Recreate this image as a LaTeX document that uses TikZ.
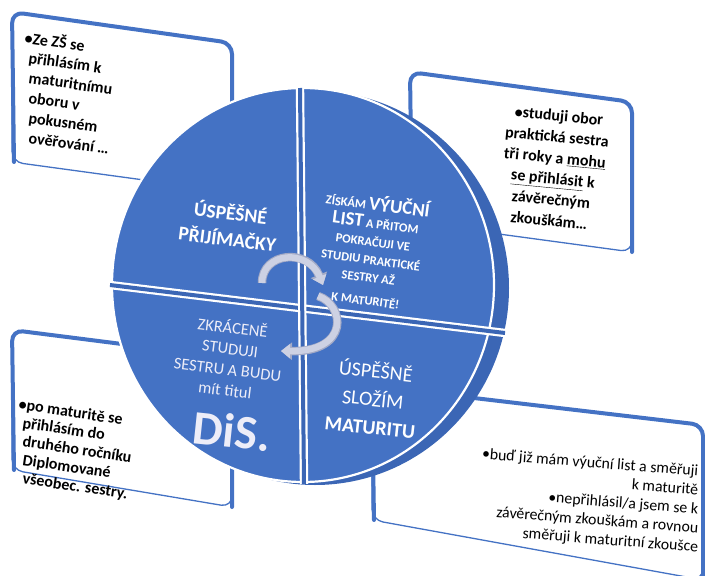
\documentclass[tikz,border=0pt]{standalone}
\usepackage{fontspec}
\setmainfont{Carlito}
\usetikzlibrary{arrows.meta}
\definecolor{oblue}{HTML}{4472C4}
\definecolor{rimblue}{HTML}{3B66B5}
\definecolor{arrowc}{HTML}{CDD1E3}
\definecolor{arrowo}{HTML}{A3AAC6}
\definecolor{lav}{HTML}{EDEDF8}
\tikzset{
  card/.style={fill=white, draw=oblue, line width=1.3pt, rounded corners=11pt},
  cardtop/.style={draw=oblue, line width=4pt, rounded corners=11pt, line cap=round},
  boxtxt/.style={font=\bfseries\fontsize{16}{21}\selectfont, text=black, inner sep=0pt},
  lineL/.style={boxtxt, anchor=base west},
  lineR/.style={font=\fontsize{15.8}{19}\selectfont, text=black, inner sep=0pt, anchor=base east, rotate=-4.5},
  qtxt/.style={text=white, inner sep=0pt, align=center},
  divider/.style={draw=white, line width=2.2pt, double=rimblue, double distance=4pt},
  cyc/.style={draw=arrowc, line width=6.5pt, -{Triangle[length=9pt,width=14pt]}},
  cycout/.style={draw=arrowo, line width=8.5pt, -{Triangle[length=11pt,width=17pt]}},
}
\begin{document}
\begin{tikzpicture}[x=1pt,y=-1pt]
\useasboundingbox (0,0) rectangle (705,576);
% cards
\coordinate (b1a) at (12,12); \coordinate (b1b) at (232,43);
\coordinate (b1c) at (232,192); \coordinate (b1d) at (12,162);
\coordinate (b2a) at (410,72); \coordinate (b2b) at (632,102);
\coordinate (b2c) at (632,252); \coordinate (b2d) at (410,222);
\coordinate (b3a) at (12,330); \coordinate (b3b) at (232,358);
\coordinate (b3c) at (232,507); \coordinate (b3d) at (12,470);
\coordinate (b4a) at (372,386); \coordinate (b4b) at (703,425);
\coordinate (b4c) at (703,580); \coordinate (b4d) at (372,520);
\foreach \n in {1,2,3,4}{
  \path[card] (b\n a) -- (b\n b) -- (b\n c) -- (b\n d) -- cycle;
  \draw[cardtop] ([xshift=2pt]b\n d) -- (b\n a) -- (b\n b) -- (b\n c);
}
% card 1 text
\foreach \t [count=\i] in {•Ze ZŠ se, přihlásím k, maturitnímu, oboru v, pokusném, ověřování …}
  \node[lineL, rotate=-8] (t1-\i) at ({\i==1 ? 24 : 28}, 23+20*\i) {\t};
% card 2 text
\node[boxtxt, align=center, rotate=-5.5] (t2) at (554,168)
 {•studuji obor\\praktická sestra\\tři roky a \underline{mohu}\\\underline{se přihlásit} k\\závěrečným\\zkouškám…};
% card 3 text
\foreach \t [count=\i] in {•po maturitě se, přihlásím do, druhého ročníku, Diplomované, všeobec. sestry.}
  \node[lineL, rotate=-8.5] (t3-\i) at ({\i==1 ? 18 : 22}, 391+18.5*\i) {\t};
% card 4 text
\foreach \t [count=\i] in {•buď již mám výuční list a směřuji, k maturitě, •nepřihlásil/a jsem se k, závěrečným zkouškám a rovnou, směřuji k maturitní zkoušce}
  \node[lineR] (t4-\i) at (698, 457+19*\i) {\t};
% disk
\fill[rimblue] (315,288) ellipse[x radius=194, y radius=197];
\draw[fill=oblue, draw=white, line width=2.2pt] (303,285) ellipse[x radius=191, y radius=197];
\coordinate (hl) at (110,285); \coordinate (hr) at (505,333);
\coordinate (vt) at (300,88); \coordinate (vb) at (304,484);
\draw[divider] (hl) -- (hr);
\draw[divider] (vt) -- (vb);
% quadrant texts
\node[qtxt, font=\bfseries\fontsize{19.5}{26}\selectfont, rotate=-7] (q1) at (229,225) {ÚSPĚŠNÉ\\PŘIJÍMAČKY};
\node[qtxt, font=\bfseries\fontsize{12.5}{18}\selectfont, rotate=-7.5] (q2) at (372,250)
 {ZÍSKÁM {\fontsize{19}{19}\selectfont VÝUČNÍ}\\{\fontsize{19}{19}\selectfont LIST} A PŘITOM\\POKRAČUJI VE\\STUDIU PRAKTICKÉ\\SESTRY AŽ\\[5pt]K MATURITĚ!};
\node[qtxt, text=lav, font=\fontsize{16.5}{21}\selectfont, rotate=-7] (q3) at (229,358)
 {ZKRÁCENĚ\\STUDUJI\\SESTRU A BUDU\\mít titul};
\node[qtxt, text=lav, font=\bfseries\fontsize{48}{48}\selectfont, rotate=-6] (q3b) at (232,431) {DiS.};
\node[qtxt, font=\fontsize{20}{28}\selectfont, rotate=-6] (q4) at (373,398)
 {ÚSPĚŠNĚ\\SLOŽÍM\\\textbf{MATURITU}};
% cycle arrows
\coordinate (a1s) at (262,283); \coordinate (a1e) at (323,285);
\coordinate (a2s) at (318,296); \coordinate (a2e) at (281,351);
\draw[cycout] (a1s) .. controls (262,252) and (308,248) .. (a1e);
\draw[cyc] (a1s) .. controls (262,252) and (308,248) .. (a1e);
\draw[cycout] (a2s) .. controls (345,305) and (350,352) .. (a2e);
\draw[cyc] (a2s) .. controls (345,305) and (350,352) .. (a2e);
\end{tikzpicture}
\end{document}
